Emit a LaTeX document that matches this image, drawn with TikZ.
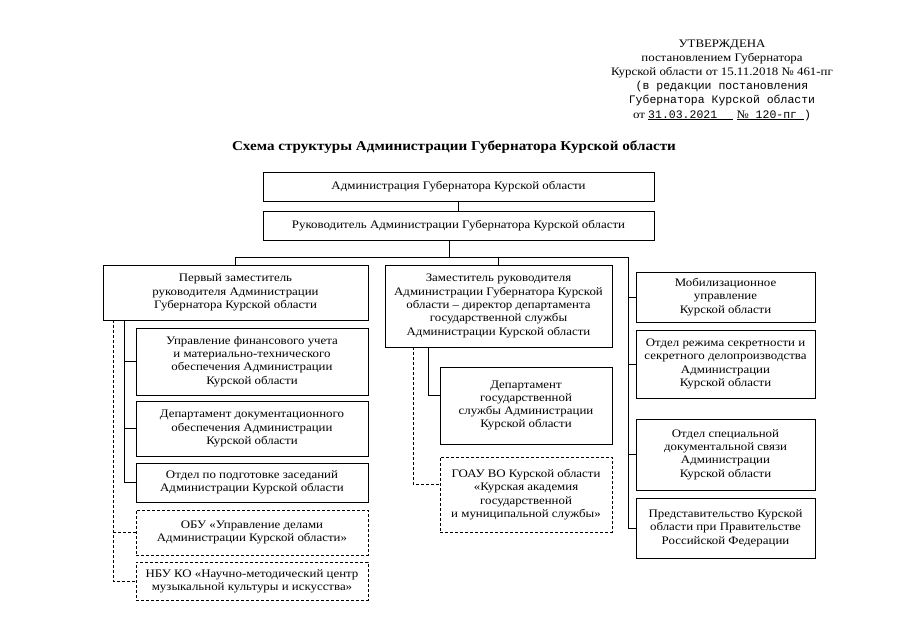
\documentclass[tikz,border=0pt]{standalone}
\usepackage{fontspec}
\setmainfont[FakeStretch=1.12]{Liberation Serif}
\setmonofont{Liberation Mono}
\usepackage{tikz}
\tikzset{x=1pt,y=-1pt}
\tikzset{box/.style={draw,line width=0.8pt,align=center,inner sep=0pt,
        font=\fontsize{11.5}{13.3}\selectfont}}
\tikzset{dbox/.style={box,dash pattern=on 3pt off 2pt}}
\tikzset{link/.style={line width=0.8pt}}
\tikzset{dlink/.style={line width=0.8pt,dash pattern=on 3pt off 2pt}}

\begin{document}
\begin{tikzpicture}
                \useasboundingbox (0,0) rectangle (905,640);
                % header
                \node[align=center,font=\fontsize{11.5}{14.2}\selectfont] (hdr) at (722,80)
                    {УТВЕРЖДЕНА\\
                     постановлением Губернатора\\
                     Курской области от 15.11.2018 № 461-пг\\
                     \texttt{(в редакции постановления}\\
                     \texttt{Губернатора Курской области}\\
                     от \underline{\texttt{31.03.2021}\ \ \ \ \ } \underline{№\texttt{ 120-пг }}\texttt{)}};
                \node[font=\fontsize{13.5}{15}\selectfont\bfseries] (ttl) at (454,147)
                    {Схема структуры Администрации Губернатора Курской области};
                % top
                \node[box,minimum width=391,minimum height=29] (adm) at (458.5,186.5)
                    {Администрация Губернатора Курской области};
                \node[box,minimum width=391,minimum height=29] (head) at (458.5,225.5)
                    {Руководитель Администрации Губернатора Курской области};
                % deputies
                \node[box,minimum width=265,minimum height=55] (dep1) at (235.5,292.5)
                    {Первый заместитель\\руководителя Администрации\\Губернатора Курской области};
                \node[box,minimum width=227,minimum height=82] (dep2) at (498.5,306)
                    {Заместитель руководителя\\Администрации Губернатора Курской\\области -- директор департамента\\государственной службы\\Администрации Курской области};
                % right column
                \node[box,minimum width=179,minimum height=50] (mob) at (725.5,297)
                    {Мобилизационное\\управление\\Курской области};
                \node[box,minimum width=179,minimum height=68] (secr) at (725.5,364)
                    {Отдел режима секретности и\\секретного делопроизводства\\Администрации\\Курской области};
                \node[box,minimum width=179,minimum height=71] (spec) at (725.5,454.5)
                    {Отдел специальной\\документальной связи\\Администрации\\Курской области};
                \node[box,minimum width=179,minimum height=60] (rep) at (725.5,528)
                    {Представительство Курской\\области при Правительстве\\Российской Федерации};
                % first deputy
                \node[box,minimum width=232,minimum height=67] (fin) at (252,361.5)
                    {Управление финансового учета\\и материально-технического\\обеспечения Администрации\\Курской области};
                \node[box,minimum width=232,minimum height=55] (doc) at (252,428.5)
                    {Департамент документационного\\обеспечения Администрации\\Курской области};
                \node[box,minimum width=232,minimum height=39] (sess) at (252,482.5)
                    {Отдел по подготовке заседаний\\Администрации Курской области};
                \node[dbox,minimum width=232,minimum height=45] (obu) at (252,532.5)
                    {ОБУ «Управление делами\\Администрации Курской области»};
                \node[dbox,minimum width=232,minimum height=38] (nbu) at (252,581)
                    {НБУ КО «Научно-методический центр\\музыкальной культуры и искусства»};
                % second deputy
                \node[box,minimum width=172,minimum height=77] (gsd) at (526,405.5)
                    {Департамент\\государственной\\службы Администрации\\Курской области};
                \node[dbox,minimum width=172,minimum height=75] (goau) at (526,494.5)
                    {ГОАУ ВО Курской области\\«Курская академия\\государственной\\и муниципальной службы»};
                % trunks
                \coordinate (bus) at (449,257);
                \coordinate (rbus) at (628,257);
                \coordinate (ltr) at (124,0);
                \coordinate (ldt) at (113,0);
                \coordinate (mtr) at (428,0);
                \coordinate (mdt) at (413,0);
                \draw[link] (adm) -- (head);
                \draw[link] (head.south -| bus) -- (bus);
                \draw[link] (dep1.north) |- (rbus);
                \draw[link] (dep2.north) -- (dep2.north |- rbus);
                \draw[link] (rbus) |- (rep.west);
                \foreach \n in {mob,secr,spec}
                    \draw[link] (rbus |- \n.west) -- (\n.west);
                \draw[link] (dep1.south -| ltr) |- (sess.west);
                \foreach \n in {fin,doc}
                    \draw[link] (ltr |- \n.west) -- (\n.west);
                \draw[dlink] (dep1.south -| ldt) |- (nbu.west);
                \draw[dlink] (ldt |- obu.west) -- (obu.west);
                \draw[link] (dep2.south -| mtr) |- ([yshift=10]gsd.west);
                \draw[dlink] (dep2.south -| mdt) |- ([yshift=10]goau.west);
\end{tikzpicture}
\end{document}
